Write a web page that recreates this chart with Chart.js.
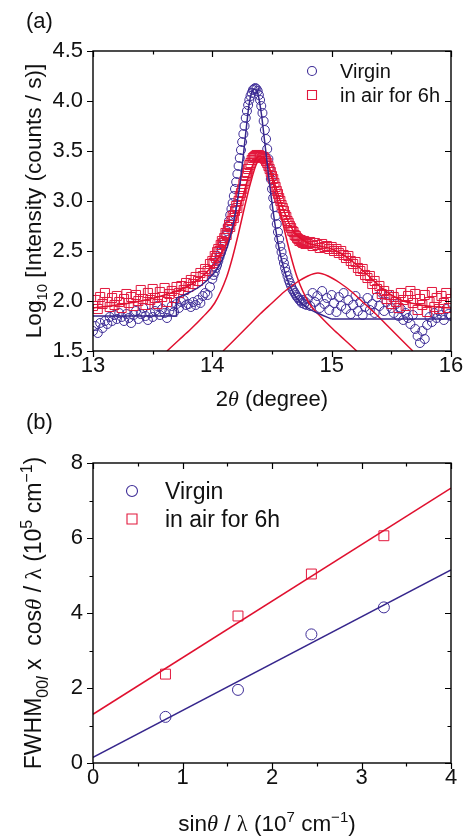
<!DOCTYPE html>
<html lang="en">
<head>
<meta charset="UTF-8">
<title>XRD peak broadening</title>
<script src="https://cdn.jsdelivr.net/npm/chart.js"></script>
<style>
  body { margin: 0; background: #fff; }
  #wrap { position: relative; width: 470px; height: 836px; }
  canvas { position: absolute; left: 0; }
  #chartA { top: 0; }
  #chartB { top: 400px; }
</style>
</head>
<body>
<div id="wrap">
  <canvas id="chartA" width="470" height="420"></canvas>
  <canvas id="chartB" width="470" height="436"></canvas>
</div>

<script>
// ---- panel (a): log10 intensity vs 2theta ----
// scans are read in three blocks: coarse / fine around the peak / coarse
const blockStart = [13.00, 14.00, 14.80];
const blockStep = [0.02, 0.01, 0.02];

const virginLeft = [1.70, 1.75, 1.68, 1.78, 1.73, 1.80, 1.77, 1.84, 1.80, 1.86,
    1.82, 1.88, 1.84, 1.80, 1.87, 1.83, 1.78, 1.86, 1.90, 1.82,
    1.87, 1.93, 1.85, 1.81, 1.88, 1.84, 1.90, 1.95, 1.86, 1.92,
    1.88, 1.83, 1.90, 1.95, 1.89, 1.97, 1.93, 1.99, 2.01, 1.96,
    1.97, 1.94, 1.99, 1.96, 2.01, 1.98, 2.05, 2.08, 2.06, 2.14];
const virginPeak = [2.22, 2.26, 2.29, 2.33, 2.36, 2.40, 2.44, 2.48, 2.52, 2.56,
    2.60, 2.65, 2.70, 2.75, 2.80, 2.86, 2.92, 2.98, 3.05, 3.12,
    3.19, 3.27, 3.35, 3.43, 3.51, 3.59, 3.67, 3.75, 3.83, 3.90,
    3.96, 4.01, 4.05, 4.08, 4.11, 4.12, 4.13, 4.12, 4.10, 4.06,
    4.01, 3.95, 3.88, 3.80, 3.71, 3.62, 3.52, 3.42, 3.32, 3.22,
    3.12, 3.03, 2.94, 2.85, 2.77, 2.69, 2.62, 2.55, 2.49, 2.43,
    2.38, 2.33, 2.29, 2.25, 2.21, 2.18, 2.15, 2.12, 2.10, 2.08,
    2.06, 2.04, 2.03, 2.01, 2.00, 1.98, 2.01, 1.97, 1.99, 1.96];
const virginRight = [2.02, 1.95, 2.08, 1.99, 2.05, 1.93, 2.10, 1.97, 2.03, 1.91,
    2.06, 1.98, 1.89, 2.04, 1.95, 2.08, 1.92, 2.01, 1.87, 1.96,
    2.05, 1.90, 1.99, 1.86, 1.94, 2.03, 1.91, 1.97, 1.88, 2.04,
    1.95, 2.08, 1.90, 1.99, 2.06, 1.93, 1.88, 1.97, 1.85, 1.92,
    1.81, 1.88, 1.83, 1.77, 1.86, 1.72, 1.65, 1.58, 1.70, 1.62,
    1.76, 1.84, 1.79, 1.88, 1.83, 1.90, 1.86, 1.81, 1.92, 1.87, 1.85];

const airLeft = [1.95, 2.01, 1.92, 2.04, 1.97, 2.08, 1.99, 1.94, 2.03, 1.96,
    2.05, 1.99, 1.93, 2.02, 2.07, 1.98, 2.04, 1.95, 2.06, 2.00,
    2.11, 2.02, 1.96, 2.08, 2.01, 2.12, 2.03, 1.97, 2.09, 2.04,
    2.13, 1.99, 2.07, 2.10, 2.03, 2.14, 2.08, 2.15, 2.11, 2.18,
    2.14, 2.21, 2.17, 2.24, 2.20, 2.28, 2.25, 2.32, 2.30, 2.37];
const airPeak = [2.40, 2.38, 2.45, 2.43, 2.49, 2.52, 2.50, 2.56, 2.60, 2.58,
    2.63, 2.68, 2.66, 2.72, 2.76, 2.74, 2.80, 2.85, 2.83, 2.90,
    2.95, 2.93, 3.00, 3.05, 3.08, 3.12, 3.17, 3.20, 3.25, 3.28,
    3.32, 3.36, 3.38, 3.41, 3.43, 3.44, 3.45, 3.46, 3.45, 3.46,
    3.44, 3.45, 3.43, 3.44, 3.42, 3.40, 3.38, 3.35, 3.32, 3.29,
    3.25, 3.22, 3.18, 3.14, 3.10, 3.07, 3.03, 3.00, 2.96, 2.93,
    2.90, 2.86, 2.84, 2.80, 2.78, 2.75, 2.73, 2.70, 2.69, 2.66,
    2.65, 2.63, 2.62, 2.60, 2.61, 2.59, 2.58, 2.60, 2.57, 2.58];
const airRight = [2.57, 2.59, 2.55, 2.58, 2.56, 2.53, 2.57, 2.54, 2.55, 2.52,
    2.54, 2.50, 2.52, 2.48, 2.50, 2.46, 2.43, 2.45, 2.40, 2.37,
    2.39, 2.33, 2.30, 2.32, 2.26, 2.23, 2.25, 2.17, 2.20, 2.12,
    2.15, 2.07, 2.10, 2.02, 2.06, 1.97, 2.04, 1.99, 1.93, 2.08,
    2.01, 1.95, 2.05, 2.10, 1.98, 2.07, 1.91, 2.02, 1.96, 2.06,
    1.89, 1.99, 2.09, 1.94, 2.03, 1.92, 2.05, 1.98, 2.08, 1.93, 2.02];

// fitted curves
const virginBaseLeftX = [13.00, 13.70, 13.70];
const virginBaseLeftY = [1.85, 1.85, 2.03];
const virginFitX = [13.70, 13.80, 13.90, 14.00, 14.05, 14.10, 14.15, 14.20, 14.25, 14.28, 14.31, 14.34, 14.36,
    14.38, 14.41, 14.44, 14.47, 14.50, 14.55, 14.60, 14.65, 14.70, 14.80, 14.90, 15.00];
const virginFitY = [2.03, 2.08, 2.15, 2.26, 2.34, 2.46, 2.64, 2.92, 3.35, 3.68, 3.98, 4.11, 4.12,
    4.08, 3.88, 3.58, 3.27, 2.98, 2.58, 2.32, 2.15, 2.04, 1.93, 1.87, 1.82];
const virginBaseRightX = [15.00, 16.00];
const virginBaseRightY = [1.82, 1.82];

const airFitX = [13.0, 13.2, 13.4, 13.6, 13.8, 13.9, 14.0, 14.05, 14.1, 14.15, 14.2, 14.25, 14.3, 14.35, 14.4,
    14.45, 14.5, 14.55, 14.6, 14.65, 14.7, 14.8, 14.9, 15.0, 15.1, 15.2, 15.3, 15.4, 15.5, 15.6, 15.7, 15.8, 16.0];
const airFitY = [1.93, 1.96, 2.00, 2.06, 2.15, 2.23, 2.35, 2.43, 2.53, 2.66, 2.82, 3.02, 3.23, 3.39, 3.45,
    3.41, 3.26, 3.07, 2.90, 2.76, 2.67, 2.58, 2.55, 2.52, 2.46, 2.37, 2.26, 2.15, 2.06, 2.00, 1.97, 1.95, 1.93];
const airMainX = [13.62, 13.72, 13.82, 13.92, 14.02, 14.12, 14.17, 14.22, 14.27, 14.32, 14.37, 14.415,
    14.46, 14.51, 14.56, 14.61, 14.66, 14.71, 14.81, 14.91, 15.01, 15.11, 15.21];
const airMainY = [1.50, 1.61, 1.72, 1.84, 1.98, 2.24, 2.44, 2.68, 2.94, 3.18, 3.37, 3.43,
    3.37, 3.18, 2.94, 2.68, 2.44, 2.24, 1.98, 1.84, 1.72, 1.61, 1.50];
const airBroadX = [14.09, 14.20, 14.30, 14.40, 14.50, 14.60, 14.70, 14.80, 14.885,
    14.97, 15.07, 15.17, 15.27, 15.37, 15.47, 15.57, 15.68];
const airBroadY = [1.50, 1.63, 1.75, 1.87, 1.98, 2.09, 2.18, 2.25, 2.28,
    2.25, 2.18, 2.09, 1.98, 1.87, 1.75, 1.63, 1.50];

const aXTicks = [13, 14, 15, 16];
const aXMinor = [13.5, 14.5, 15.5];
const aYTicks = [1.5, 2.0, 2.5, 3.0, 3.5, 4.0, 4.5];

// ---- panel (b): FWHM*cos(theta)/lambda vs sin(theta)/lambda ----
const bX = [0.81, 1.62, 2.44, 3.25];
const virginFwhm = [1.23, 1.95, 3.43, 4.15];
const airFwhm = [2.37, 3.92, 5.04, 6.06];
const lineX = [0, 4];
const virginLineY = [0.15, 5.15];
const airLineY = [1.30, 7.33];

const bXTicks = [0, 1, 2, 3, 4];
const bXMinor = [0.5, 1.5, 2.5, 3.5];
const bYTicks = [0, 2, 4, 6, 8];
const bYMinor = [1, 3, 5, 7];

const BLUE = '#3e2d97';
const RED = '#e2183d';
const BLUE_LINE = '#36268c';
const RED_LINE = '#e0102f';
const INK = '#111';
const FONT = "'Liberation Sans', Arial, sans-serif";
const SERIF = "'Liberation Serif', 'Times New Roman', serif";

function blocksToPoints(blocks) {
    const pts = [];
    blocks.forEach((vals, b) => {
        vals.forEach((v, i) => pts.push({ x: +(blockStart[b] + i * blockStep[b]).toFixed(2), y: v }));
    });
    return pts;
}
function zip(xs, ys) {
    return xs.map((x, i) => ({ x: x, y: ys[i] }));
}

// draw a line of text made of runs (sub/sup/italic), centred on x,y
function drawRich(ctx, runs, size, x, y, rot) {
    ctx.save();
    ctx.translate(x, y);
    if (rot) ctx.rotate(rot);
    const fontOf = r => (r.it ? 'italic ' : '') + ((r.sub || r.sup) ? Math.round(size * 0.68) : size) + 'px ' + (r.serif ? SERIF : FONT);
    let w = 0;
    runs.forEach(r => { ctx.font = fontOf(r); r.w = ctx.measureText(r.t).width; w += r.w; });
    let cx = -w / 2;
    ctx.fillStyle = INK;
    ctx.textBaseline = 'alphabetic';
    runs.forEach(r => {
        ctx.font = fontOf(r);
        const dy = r.sub ? size * 0.28 : (r.sup ? -size * 0.42 : 0);
        ctx.fillText(r.t, cx, dy + size * 0.36);
        cx += r.w;
    });
    ctx.restore();
}

function legendItem(ctx, shape, x, y, r, color, text, size, textX) {
    ctx.save();
    ctx.strokeStyle = color;
    ctx.lineWidth = 1.1;
    ctx.beginPath();
    if (shape === 'circle') ctx.arc(x, y, r, 0, Math.PI * 2);
    else ctx.rect(x - r, y - r, 2 * r, 2 * r);
    ctx.stroke();
    ctx.fillStyle = INK;
    ctx.font = size + 'px ' + FONT;
    ctx.textBaseline = 'alphabetic';
    ctx.fillText(text, textX, y + size * 0.36);
    ctx.restore();
}

// box around the plot, ticks out on left/bottom, in on top/right
const framePlugin = {
    id: 'frame',
    afterDatasetsDraw(chart, args, o) {
        const { ctx, chartArea: a } = chart;
        const xs = chart.scales.x, ys = chart.scales.y;
        ctx.save();
        ctx.strokeStyle = '#000';
        ctx.lineWidth = 1.4;
        ctx.strokeRect(a.left, a.top, a.right - a.left, a.bottom - a.top);
        ctx.lineWidth = 1.2;
        ctx.beginPath();
        const xt = (v, len) => {
            const p = Math.round(xs.getPixelForValue(v)) + 0.5;
            ctx.moveTo(p, a.bottom); ctx.lineTo(p, a.bottom + len);
            ctx.moveTo(p, a.top); ctx.lineTo(p, a.top + len);
        };
        const yt = (v, len) => {
            const p = Math.round(ys.getPixelForValue(v)) + 0.5;
            ctx.moveTo(a.left, p); ctx.lineTo(a.left - len, p);
            ctx.moveTo(a.right, p); ctx.lineTo(a.right - len, p);
        };
        o.xMajor.forEach(v => xt(v, 6));
        o.xMinor.forEach(v => xt(v, 3.5));
        o.yMajor.forEach(v => yt(v, 6));
        o.yMinor.forEach(v => yt(v, 3.5));
        ctx.stroke();
        ctx.restore();
        if (o.decorate) o.decorate(ctx, a);
    }
};
Chart.register(framePlugin);

function makeOptions(cfg) {
    return {
        responsive: false,
        animation: false,
        events: [],
        layout: { padding: { top: cfg.top, right: 19, left: 0, bottom: 0 } },
        plugins: {
            legend: { display: false },
            tooltip: { enabled: false },
            frame: { xMajor: cfg.xTicks, xMinor: cfg.xMinor, yMajor: cfg.yTicks, yMinor: cfg.yMinor, decorate: cfg.decorate }
        },
        scales: {
            x: {
                type: 'linear', min: cfg.xMin, max: cfg.xMax,
                grid: { display: false, drawTicks: false },
                border: { display: false },
                ticks: { font: { family: FONT, size: 22 }, color: INK, padding: 2, callback: cfg.xFmt },
                afterBuildTicks: s => { s.ticks = cfg.xTicks.map(v => ({ value: v })); },
                afterFit: s => { s.height = cfg.xHeight; }
            },
            y: {
                type: 'linear', min: cfg.yMin, max: cfg.yMax,
                grid: { display: false, drawTicks: false },
                border: { display: false },
                ticks: { font: { family: FONT, size: 22 }, color: INK, padding: 10, callback: cfg.yFmt },
                afterBuildTicks: s => { s.ticks = cfg.yTicks.map(v => ({ value: v })); },
                afterFit: s => { s.width = 93; }
            }
        }
    };
}

function fitLine(data, color, order, smooth) {
    return {
        data: data, showLine: true, borderColor: color, borderWidth: 1.5,
        pointRadius: 0, tension: 0, cubicInterpolationMode: smooth ? 'monotone' : 'default',
        fill: false, order: order
    };
}

// ---- chart (a) ----
new Chart(document.getElementById('chartA'), {
    type: 'scatter',
    data: {
        datasets: [
            fitLine(zip(virginBaseLeftX, virginBaseLeftY), BLUE_LINE, 1, false),
            fitLine(zip(virginFitX, virginFitY), BLUE_LINE, 1, true),
            fitLine(zip(virginBaseRightX, virginBaseRightY), BLUE_LINE, 1, false),
            fitLine(zip(airFitX, airFitY), RED_LINE, 2, true),
            fitLine(zip(airMainX, airMainY), RED_LINE, 2, true),
            fitLine(zip(airBroadX, airBroadY), RED_LINE, 2, true),
            {
                label: 'in air for 6h',
                data: blocksToPoints([airLeft, airPeak, airRight]),
                pointStyle: 'rect', pointRadius: 6.4, borderWidth: 1,
                borderColor: RED, backgroundColor: 'rgba(0,0,0,0)', order: 5
            },
            {
                label: 'Virgin',
                data: blocksToPoints([virginLeft, virginPeak, virginRight]),
                pointStyle: 'circle', pointRadius: 4.5, borderWidth: 1,
                borderColor: BLUE, backgroundColor: 'rgba(0,0,0,0)', order: 6
            }
        ]
    },
    options: makeOptions({
        top: 51, xHeight: 69, xMin: 13, xMax: 16, yMin: 1.5, yMax: 4.5,
        xTicks: aXTicks, xMinor: aXMinor, yTicks: aYTicks, yMinor: [],
        xFmt: v => String(v), yFmt: v => v.toFixed(1),
        decorate: (ctx, a) => {
            ctx.save();
            ctx.fillStyle = INK;
            ctx.font = '22px ' + FONT;
            ctx.textBaseline = 'alphabetic';
            ctx.fillText('(a)', 26, 28);
            ctx.restore();
            drawRich(ctx, [{ t: '2' }, { t: 'θ', it: true, serif: true }, { t: ' (degree)' }], 22, (a.left + a.right) / 2, 398);
            drawRich(ctx, [{ t: 'Log' }, { t: '10', sub: true }, { t: ' [Intensity (counts / s)]' }], 22.5, 33, (a.top + a.bottom) / 2, -Math.PI / 2);
            legendItem(ctx, 'circle', 312, 71, 4.5, BLUE, 'Virgin', 20, 340);
            legendItem(ctx, 'rect', 312, 95, 4.5, RED, 'in air for 6h', 20, 340);
        }
    })
});

// ---- chart (b) ----
new Chart(document.getElementById('chartB'), {
    type: 'scatter',
    data: {
        datasets: [
            fitLine(zip(lineX, virginLineY), BLUE_LINE, 1, false),
            fitLine(zip(lineX, airLineY), RED_LINE, 1, false),
            {
                label: 'Virgin', data: zip(bX, virginFwhm),
                pointStyle: 'circle', pointRadius: 5.5, borderWidth: 1,
                borderColor: BLUE, backgroundColor: 'rgba(0,0,0,0)', order: 3
            },
            {
                label: 'in air for 6h', data: zip(bX, airFwhm),
                pointStyle: 'rect', pointRadius: 7, borderWidth: 1,
                borderColor: RED, backgroundColor: 'rgba(0,0,0,0)', order: 3
            }
        ]
    },
    options: makeOptions({
        top: 63, xHeight: 73, xMin: 0, xMax: 4, yMin: 0, yMax: 8,
        xTicks: bXTicks, xMinor: bXMinor, yTicks: bYTicks, yMinor: bYMinor,
        xFmt: v => String(v), yFmt: v => String(v),
        decorate: (ctx, a) => {
            ctx.save();
            ctx.fillStyle = INK;
            ctx.font = '22px ' + FONT;
            ctx.textBaseline = 'alphabetic';
            ctx.fillText('(b)', 26, 29);
            ctx.restore();
            drawRich(ctx, [{ t: 'sin' }, { t: 'θ', it: true, serif: true }, { t: ' / ' }, { t: 'λ', serif: true },
                { t: ' (10' }, { t: '7', sup: true }, { t: ' cm' }, { t: '−1', sup: true }, { t: ')' }], 22.5, 267, 423);
            drawRich(ctx, [{ t: 'FWHM' }, { t: '00', sub: true }, { t: 'l', sub: true, it: true }, { t: ' x  cos' },
                { t: 'θ', it: true, serif: true }, { t: ' / ' }, { t: 'λ', serif: true }, { t: ' (10' }, { t: '5', sup: true },
                { t: ' cm' }, { t: '−1', sup: true }, { t: ')' }], 23, 33, (a.top + a.bottom) / 2, -Math.PI / 2);
            legendItem(ctx, 'circle', 132, 91, 5.5, BLUE, 'Virgin', 23, 165);
            legendItem(ctx, 'rect', 132, 119, 5, RED, 'in air for 6h', 23, 165);
        }
    })
});
</script>
</body>
</html>
